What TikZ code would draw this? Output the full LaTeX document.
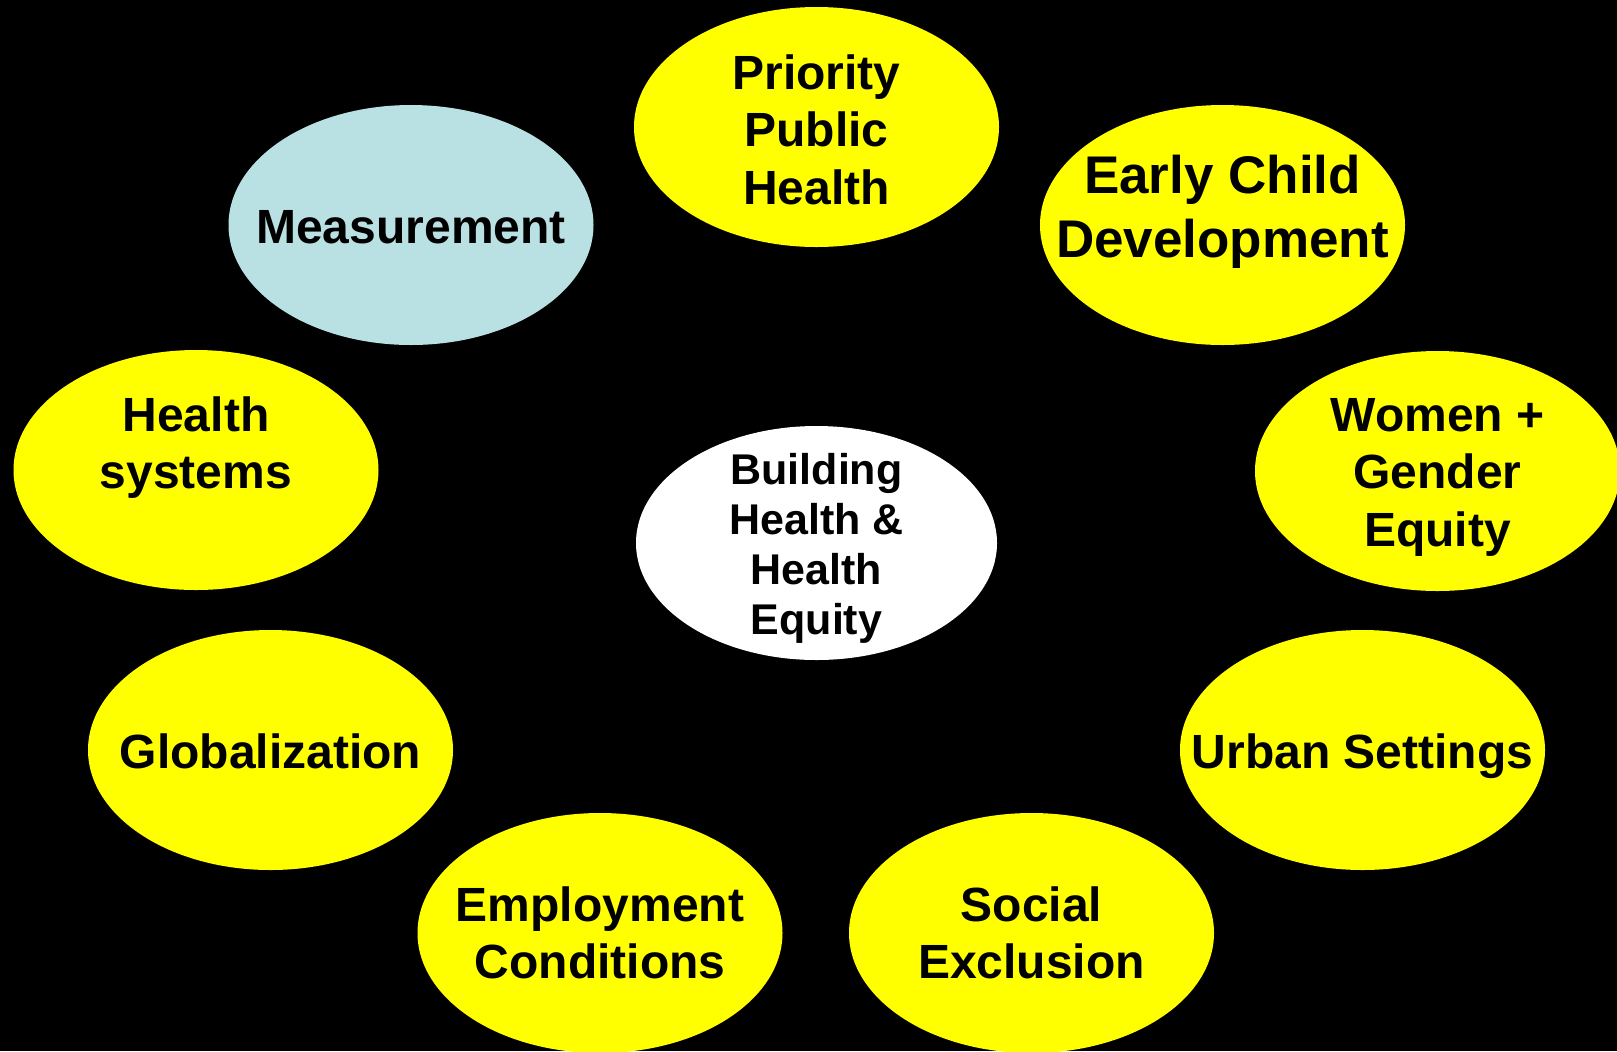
\documentclass[tikz,border=0pt]{standalone}
\usepackage{fontspec}
\setmainfont{Liberation Sans}
\usetikzlibrary{shapes.geometric,calc}
\definecolor{bubyellow}{HTML}{FFFF00}
\definecolor{bubblue}{HTML}{B9E0E3}
\newcommand\mlines[1]{\vtop{\halign{\hfil##\hfil\cr#1\crcr}}}
\begin{document}
\begin{tikzpicture}[x=0.5pt,y=-0.5pt,
  bubble/.style={ellipse,fill=bubyellow,draw=none,inner sep=0pt,
    minimum width=182.5pt,minimum height=120pt},
  hub/.style={bubble,fill=white,minimum width=180.5pt,minimum height=117pt},
  txt/.style={anchor=base,inner sep=0pt,text=black,
    font=\bfseries\fontsize{24}{28.75}\selectfont},
  bigtxt/.style={txt,font=\bfseries\fontsize{26.5}{32}\selectfont},
  hubtxt/.style={txt,font=\bfseries\fontsize{21.5}{25}\selectfont}]
\useasboundingbox (0,0) rectangle (1617,1051);
\fill[black] (0,0) rectangle (1617,1051);
\clip (0,0) rectangle (1617,1051);
% ellipses
\node[bubble] (pph) at (816.5,127) {};
\node[bubble] (ecd) at (1222.5,225) {};
\node[bubble,fill=bubblue] (mea) at (411,225) {};
\node[bubble] (hs) at (196,470) {};
\node[bubble] (wge) at (1437.5,471) {};
\node[hub] (ctr) at (816.5,543) {};
\node[bubble] (glo) at (270.5,750) {};
\node[bubble] (urb) at (1362.5,750) {};
\node[bubble] (emp) at (600,933) {};
\node[bubble] (soc) at (1031.5,933) {};
% texts
\node[txt] (tpph) at ($(pph)+(0,-38)$) {\mlines{Priority\cr Public\cr Health}};
\node[bigtxt] (tecd) at ($(ecd)+(0,-32)$) {\mlines{Early Child\cr Development}};
\node[txt] (tmea) at ($(mea)+(0,18)$) {Measurement};
\node[txt] (ths) at ($(hs)+(0,-39)$) {\mlines{Health\cr systems}};
\node[txt] (twge) at ($(wge)+(0,-40)$) {\mlines{Women +\cr Gender\cr Equity}};
\node[hubtxt] (tctr) at ($(ctr)+(0,-59)$) {\mlines{Building\cr Health \&\cr Health\cr Equity}};
\node[txt] (tglo) at ($(glo)+(0,18.5)$) {Globalization};
\node[txt] (turb) at ($(urb)+(0,18.5)$) {Urban Settings};
\node[txt] (temp) at ($(emp)+(0,-12)$) {\mlines{Employment\cr Conditions}};
\node[txt] (tsoc) at ($(soc)+(0,-12)$) {\mlines{Social\cr Exclusion}};
\end{tikzpicture}
\end{document}
